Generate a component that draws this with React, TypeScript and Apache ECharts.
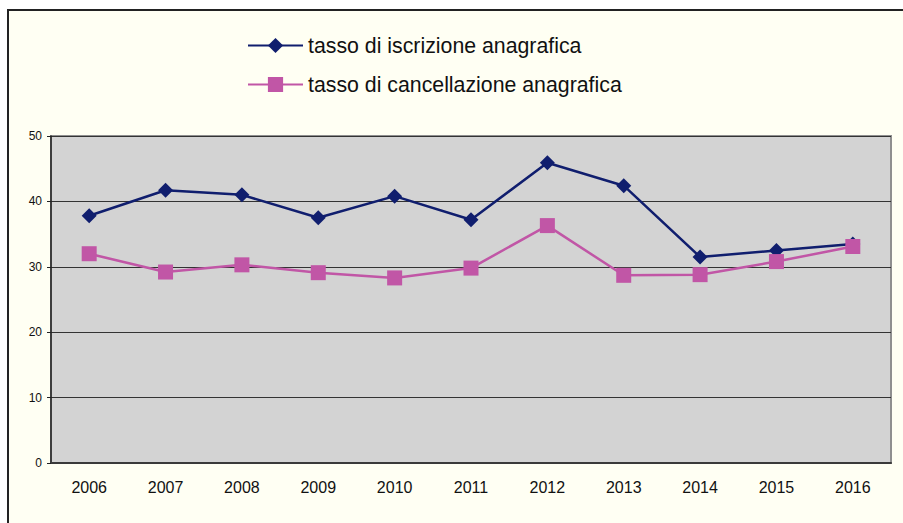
import React, { useEffect, useRef } from "react";
import * as echarts from "echarts";

const years = ["2006", "2007", "2008", "2009", "2010", "2011", "2012", "2013", "2014", "2015", "2016"];
const iscrizione = [37.8, 41.7, 41.0, 37.5, 40.8, 37.2, 45.9, 42.4, 31.5, 32.5, 33.5];
const cancellazione = [32.0, 29.2, 30.3, 29.1, 28.3, 29.8, 36.3, 28.7, 28.8, 30.8, 33.1];
const seriesNames = ["tasso di iscrizione anagrafica", "tasso di cancellazione anagrafica"];

const FONT = "'Liberation Sans', Arial, Helvetica, sans-serif";

export default function App() {
  const ref = useRef<HTMLDivElement>(null);
  useEffect(() => {
    if (!ref.current) return;
    const chart = echarts.init(ref.current, null, { renderer: "svg" });
    chart.setOption({
      animation: false,
      backgroundColor: "#ffffff",
      textStyle: { fontFamily: FONT },
      graphic: [
        {
          type: "rect",
          z: -10,
          silent: true,
          shape: { x: 8, y: 10, width: 910, height: 530 },
          style: { fill: "#fffff3", stroke: "#222222", lineWidth: 2 },
        },
      ],
      legend: {
        orient: "vertical",
        left: 242,
        top: 30,
        itemWidth: 55,
        itemHeight: 19,
        itemGap: 18,
        textStyle: { fontSize: 21.3, color: "#111111", fontFamily: FONT },
        data: seriesNames,
      },
      grid: {
        left: 51,
        right: 12,
        top: 136,
        bottom: 60,
        show: true,
        backgroundColor: "#d3d3d3",
        borderColor: "#8f8f8f",
        borderWidth: 2,
      },
      xAxis: {
        type: "category",
        data: years,
        boundaryGap: true,
        axisLine: { lineStyle: { color: "#3a3a3a", width: 2 } },
        axisTick: { show: false },
        axisLabel: { fontSize: 16, color: "#111111", margin: 16, fontFamily: FONT },
        splitLine: { show: false },
      },
      yAxis: {
        type: "value",
        min: 0,
        max: 50,
        interval: 10,
        axisLine: { show: true, lineStyle: { color: "#222222", width: 1.5 } },
        axisTick: { show: true, length: 4, lineStyle: { color: "#222222" } },
        axisLabel: { fontSize: 12, color: "#111111", margin: 9, fontFamily: FONT },
        splitLine: { show: true, lineStyle: { color: "#333333", width: 1 } },
      },
      series: [
        {
          name: seriesNames[0],
          type: "line",
          data: iscrizione,
          symbol: "diamond",
          symbolSize: 15,
          itemStyle: { color: "#101e6e" },
          lineStyle: { color: "#101e6e", width: 2.5 },
        },
        {
          name: seriesNames[1],
          type: "line",
          data: cancellazione,
          symbol: "rect",
          symbolSize: 15,
          itemStyle: { color: "#c156a6" },
          lineStyle: { color: "#c156a6", width: 2.5 },
        },
      ],
    });
    return () => chart.dispose();
  }, []);
  return (
    <div
      ref={ref}
      style={{ position: "absolute", left: 0, top: 0, width: 903, height: 523 }}
    />
  );
}
